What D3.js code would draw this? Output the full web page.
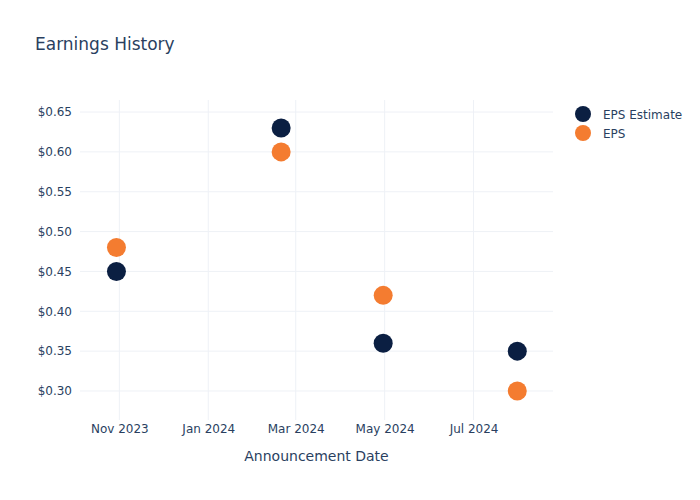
<!DOCTYPE html>
<meta charset="utf-8">
<script src="https://d3js.org/d3.v7.min.js"></script>
<style>
  body { margin: 0; background: #fff; }
  text { font-family: "DejaVu Sans", sans-serif; fill: #2a3f5f; }
</style>
<div id="chart"></div>
<script>
  // Chart data
  const dates = ["2023-10-30", "2024-02-20", "2024-04-30", "2024-07-31"];
  const epsEstimate = [0.45, 0.63, 0.36, 0.35];
  const eps = [0.48, 0.60, 0.42, 0.30];
  const xTickDates = ["2023-11-01", "2024-01-01", "2024-03-01", "2024-05-01", "2024-07-01"];
  const yTicks = [0.30, 0.35, 0.40, 0.45, 0.50, 0.55, 0.60, 0.65];
  const seriesNames = ["EPS Estimate", "EPS"];
  const seriesColors = ["#0b1f42", "#f47c30"];

  const width = 700, height = 500;
  const margin = {top: 100, right: 147, bottom: 80, left: 80};
  const parse = d3.timeParse("%Y-%m-%d");

  const svg = d3.select("#chart").append("svg")
    .attr("width", width)
    .attr("height", height);

  const plotW = width - margin.left - margin.right;
  const plotH = height - margin.top - margin.bottom;
  const g = svg.append("g").attr("transform", `translate(${margin.left},${margin.top})`);

  const dayMs = 86400000;
  const xDates = dates.map(parse);
  const x = d3.scaleTime()
    .domain([new Date(d3.min(xDates) - 25 * dayMs), new Date(+d3.max(xDates) + 24.5 * dayMs)])
    .range([0, plotW]);

  const allY = eps.concat(epsEstimate);
  const y = d3.scaleLinear()
    .domain([d3.min(allY) - 0.0364, d3.max(allY) + 0.0351])
    .range([plotH, 0]);

  // grid lines
  g.selectAll(".xgrid").data(xTickDates.map(parse)).enter().append("line")
    .attr("x1", d => x(d)).attr("x2", d => x(d))
    .attr("y1", 0).attr("y2", plotH)
    .attr("stroke", "#eef1f6").attr("stroke-width", 1);
  g.selectAll(".ygrid").data(yTicks).enter().append("line")
    .attr("x1", 0).attr("x2", plotW)
    .attr("y1", d => y(d)).attr("y2", d => y(d))
    .attr("stroke", "#eef1f6").attr("stroke-width", 1);

  // axes (labels only)
  const xAxis = g.append("g").attr("transform", `translate(0,${plotH})`)
    .call(d3.axisBottom(x).tickValues(xTickDates.map(parse)).tickFormat(d3.timeFormat("%b %Y")).tickSize(0).tickPadding(4));
  const yAxis = g.append("g")
    .call(d3.axisLeft(y).tickValues(yTicks).tickFormat(d => "$" + d.toFixed(2)).tickSize(0).tickPadding(8));
  [xAxis, yAxis].forEach(a => {
    a.select(".domain").remove();
    a.selectAll("text").attr("font-size", 12).attr("font-family", null).attr("fill", "#2a3f5f");
  });

  // points
  const series = [epsEstimate, eps];
  series.forEach((vals, i) => {
    g.selectAll(".pt" + i).data(vals).enter().append("circle")
      .attr("cx", (d, j) => x(xDates[j]))
      .attr("cy", d => y(d))
      .attr("r", 9.5)
      .attr("fill", seriesColors[i]);
  });

  // title
  svg.append("text")
    .attr("x", 35).attr("y", 50)
    .attr("font-size", 17)
    .text("Earnings History");

  // x axis title
  svg.append("text")
    .attr("x", margin.left + plotW / 2).attr("y", 461)
    .attr("text-anchor", "middle")
    .attr("font-size", 14)
    .text("Announcement Date");

  // legend
  const legend = svg.append("g").attr("transform", "translate(583,114)");
  seriesNames.forEach((name, i) => {
    legend.append("circle").attr("cx", 0).attr("cy", i * 19).attr("r", 8).attr("fill", seriesColors[i]);
    legend.append("text").attr("x", 20).attr("y", i * 19 + 4.5).attr("font-size", 12).text(name);
  });
</script>
